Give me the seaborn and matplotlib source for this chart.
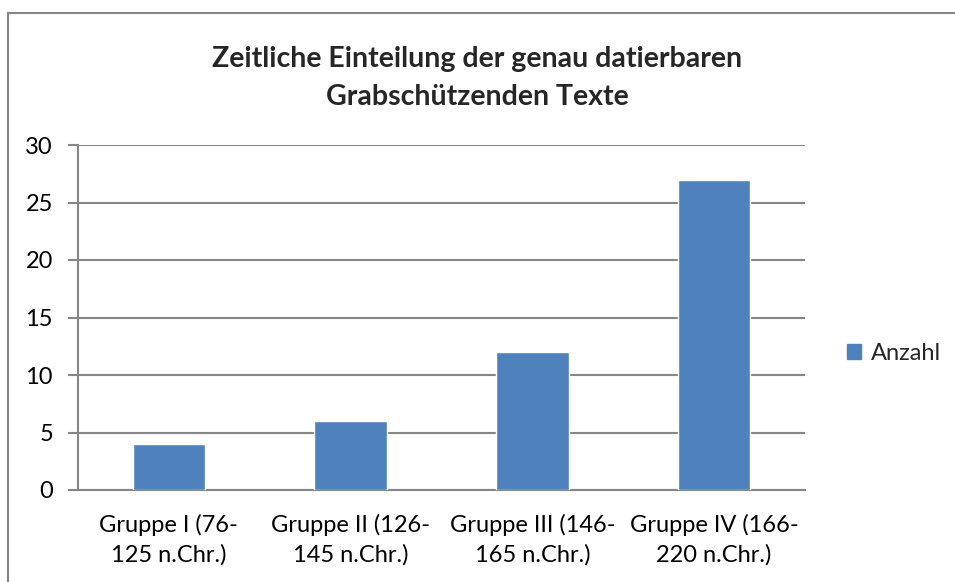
import numpy as np
import pandas as pd
import matplotlib
matplotlib.use('Agg')
import matplotlib.pyplot as plt
from matplotlib.lines import Line2D
import seaborn as sns

# Data
categories = ['Gruppe I (76-\n125 n.Chr.)', 'Gruppe II (126-\n145 n.Chr.)',
              'Gruppe III (146-\n165 n.Chr.)', 'Gruppe IV (166-\n220 n.Chr.)']
anzahl = [4, 6, 12, 27]
y_ticks = [0, 5, 10, 15, 20, 25, 30]

BAR_COLOR = '#4F81BD'
GRID_COLOR = '#868686'

sns.set_style('white')
plt.rcParams['font.family'] = ['Lato', 'DejaVu Sans']


def main():
    df = pd.DataFrame({'Gruppe': categories, 'Anzahl': anzahl})

    W, H = 955, 582
    fig = plt.figure(figsize=(W / 100, H / 100), dpi=100)
    ax = fig.add_axes([78 / W, 1 - 490 / H, (805 - 78) / W, (490 - 145) / H])

    sns.barplot(data=df, x='Gruppe', y='Anzahl', color=BAR_COLOR, width=0.4,
                saturation=1, ax=ax, zorder=3)

    # Axes limits and grid
    ax.set_xlim(-0.5, len(categories) - 0.5)
    ax.set_ylim(0, 30)
    ax.set_yticks(y_ticks)
    ax.yaxis.grid(True, color=GRID_COLOR, lw=1.5, zorder=0)
    ax.set_axisbelow(True)
    ax.set_xlabel('')
    ax.set_ylabel('')

    for side in ['top', 'right']:
        ax.spines[side].set_visible(False)
    for side in ['left', 'bottom']:
        ax.spines[side].set_color(GRID_COLOR)
        ax.spines[side].set_linewidth(1.5)

    # Excel-style tick marks at category boundaries
    ax.set_xticks(range(len(categories)))
    ax.set_xticklabels(categories, linespacing=1.45)
    ax.set_xticks(np.arange(len(categories) + 1) - 0.5, minor=True)
    ax.tick_params(axis='x', which='major', length=0, labelsize=17,
                   pad=17, colors='black')
    ax.tick_params(axis='x', which='minor', length=7, width=1.5,
                   color=GRID_COLOR, direction='out')
    ax.tick_params(axis='y', length=7, width=1.5, color=GRID_COLOR,
                   labelsize=17, pad=11, labelcolor='black', left=True)

    # Title
    fig.text(0.5, 1 - 78 / H,
             'Zeitliche Einteilung der genau datierbaren\nGrabschützenden Texte',
             ha='center', va='center', fontsize=20.5, fontweight='bold',
             linespacing=1.6)

    # Legend on the right
    handles = [plt.Rectangle((0, 0), 1, 1, color=BAR_COLOR)]
    fig.legend(handles, ['Anzahl'], loc='center left',
               bbox_to_anchor=(847 / W, 1 - 353 / H), frameon=False,
               fontsize=17, handlelength=0.6, handleheight=0.6,
               handletextpad=0.4, borderaxespad=0, borderpad=0)

    # Chart border (top and left visible in the reference)
    fig.add_artist(Line2D([8 / W, 1], [1 - 12.5 / H, 1 - 12.5 / H],
                          transform=fig.transFigure, color=GRID_COLOR, lw=1.5))
    fig.add_artist(Line2D([8 / W, 8 / W], [0, 1 - 12.5 / H],
                          transform=fig.transFigure, color=GRID_COLOR, lw=1.5))

    fig.savefig('out.png', dpi=100)
    plt.close(fig)


if __name__ == '__main__':
    main()
